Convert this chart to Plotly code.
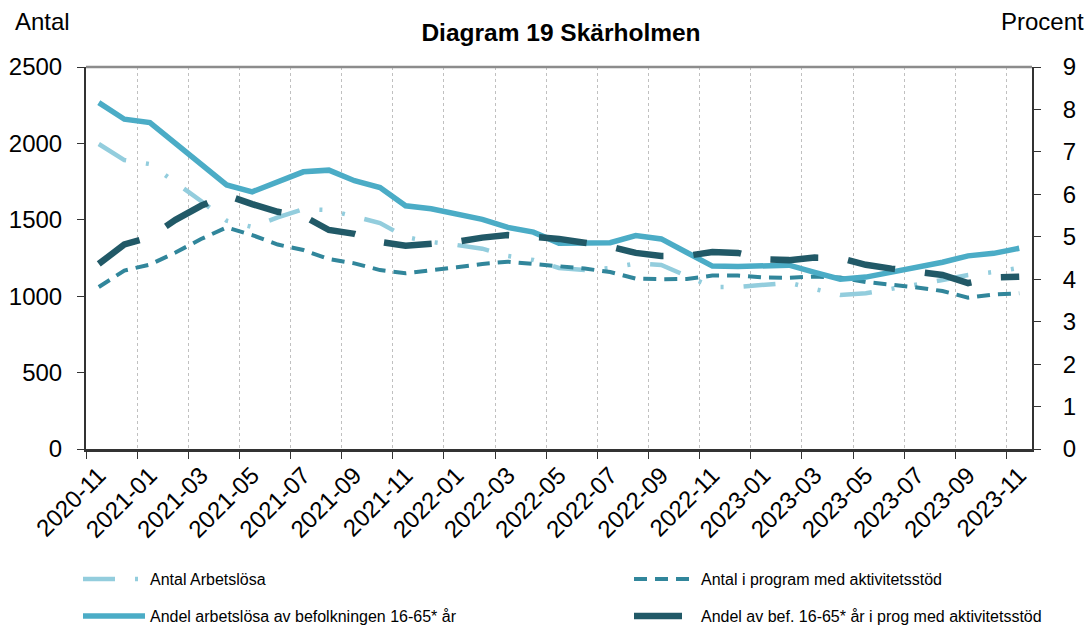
import plotly.graph_objects as go

months = ["2020-11", "2020-12", "2021-01", "2021-02", "2021-03", "2021-04", "2021-05", "2021-06",
          "2021-07", "2021-08", "2021-09", "2021-10", "2021-11", "2021-12", "2022-01", "2022-02",
          "2022-03", "2022-04", "2022-05", "2022-06", "2022-07", "2022-08", "2022-09", "2022-10",
          "2022-11", "2022-12", "2023-01", "2023-02", "2023-03", "2023-04", "2023-05", "2023-06",
          "2023-07", "2023-08", "2023-09", "2023-10", "2023-11"]

antal_arbetslosa = [1996, 1891, 1865, 1747, 1623, 1494, 1453, 1516, 1569, 1564, 1525, 1479,
                    1387, 1355, 1335, 1311, 1263, 1237, 1185, 1171, 1185, 1214, 1204, 1132,
                    1060, 1060, 1075, 1088, 1047, 1008, 1019, 1047, 1077, 1106, 1139, 1158, 1185]

antal_program = [1060, 1168, 1207, 1286, 1374, 1450, 1400, 1338, 1302, 1243, 1215, 1171,
                 1150, 1167, 1189, 1211, 1226, 1211, 1198, 1181, 1158, 1115, 1111, 1113,
                 1135, 1135, 1122, 1121, 1129, 1122, 1093, 1077, 1057, 1034, 990, 1011, 1019]

andel_arbetslosa = [8.16, 7.77, 7.69, 7.20, 6.72, 6.22, 6.06, 6.30, 6.53, 6.57, 6.32, 6.16,
                    5.73, 5.66, 5.54, 5.41, 5.22, 5.11, 4.85, 4.85, 4.86, 5.03, 4.95, 4.63,
                    4.31, 4.30, 4.30, 4.33, 4.16, 4.00, 4.05, 4.16, 4.28, 4.40, 4.55, 4.61, 4.73]

andel_program = [4.36, 4.82, 4.99, 5.40, 5.73, 5.98, 5.77, 5.59, 5.49, 5.16, 5.07, 4.88,
                 4.79, 4.85, 4.88, 4.98, 5.04, 5.00, 4.95, 4.86, 4.77, 4.62, 4.55, 4.55,
                 4.64, 4.62, 4.47, 4.45, 4.51, 4.50, 4.34, 4.25, 4.19, 4.10, 3.91, 4.04, 4.06]

names = ["Antal Arbetslösa", "Antal i program med aktivitetsstöd",
         "Andel arbetslösa av befolkningen 16-65* år",
         "Andel av bef. 16-65* år i prog med aktivitetsstöd"]

x = list(range(len(months)))
tick_idx = list(range(0, len(months), 2))
tick_text = [months[i] for i in tick_idx]

FONT = "Liberation Sans, Arial, sans-serif"

# plot area in pixels
PL, PR, PT, PB = 86, 1032, 67, 449
PW, PH = PR - PL, PB - PT


def px_x(p):
    return (p - PL) / PW


def px_y(p):
    return (PB - p) / PH


fig = go.Figure()
fig.add_trace(go.Scatter(x=x, y=antal_arbetslosa, name=names[0], mode="lines", yaxis="y",
                         line=dict(color="#93CDDD", width=4.5, dash="32px,20px,3px,20px,3px,20px"),
                         legend="legend", showlegend=True))
fig.add_trace(go.Scatter(x=x, y=antal_program, name=names[1], mode="lines", yaxis="y",
                         line=dict(color="#31869B", width=4, dash="13px,8px"),
                         legend="legend2", showlegend=True))
fig.add_trace(go.Scatter(x=x, y=andel_arbetslosa, name=names[2], mode="lines", yaxis="y2",
                         line=dict(color="#4BACC6", width=5.5),
                         legend="legend3", showlegend=True))
fig.add_trace(go.Scatter(x=x, y=andel_program, name=names[3], mode="lines", yaxis="y2",
                         line=dict(color="#215967", width=6.5, dash="48px,30px"),
                         legend="legend4", showlegend=True))


def leg(xpx, ypx):
    return dict(orientation="h", x=px_x(xpx), xanchor="left", y=px_y(ypx), yanchor="middle",
                itemwidth=62, font=dict(size=16, family=FONT), bgcolor="rgba(0,0,0,0)",
                visible=True)


fig.update_layout(
    width=1090, height=627,
    showlegend=True,
    margin=dict(l=PL, r=1090 - PR, t=PT, b=627 - PB, autoexpand=False),
    paper_bgcolor="white", plot_bgcolor="white",
    font=dict(family=FONT, color="black"),
    title=dict(text="<b>Diagram 19 Skärholmen</b>", x=px_x(561), xref="paper", xanchor="center",
               y=1 - 32 / 627, yanchor="middle", font=dict(size=24.5, family=FONT)),
    xaxis=dict(range=[-0.5, len(months) - 0.5], tickmode="array", tickvals=tick_idx,
               ticktext=tick_text, tickangle=-45, ticks="", showgrid=False, zeroline=False,
               showline=True, linecolor="#333333", linewidth=2.5, automargin=False,
               tickfont=dict(size=24, family=FONT),
               minor=dict(tick0=-0.5, dtick=2, ticks="outside", ticklen=7, tickcolor="#333333",
                          showgrid=True, gridcolor="#c0c0c0", griddash="dot", gridwidth=1)),
    yaxis=dict(range=[0, 2500], dtick=500, ticks="outside", ticklen=7, tickcolor="#333333",
               showline=True, linecolor="#333333", linewidth=2, showgrid=False, zeroline=False,
               tickfont=dict(size=24, family=FONT), ticklabelstandoff=10, automargin=False),
    yaxis2=dict(range=[0, 9], dtick=1, overlaying="y", side="right", ticks="outside", ticklen=7,
                tickcolor="#333333", showline=True, linecolor="#333333", linewidth=2,
                showgrid=False, zeroline=False, tickfont=dict(size=24, family=FONT),
                ticklabelstandoff=17, automargin=False),
    legend=leg(78, 579),
    legend2=leg(629, 579),
    legend3=leg(78, 616),
    legend4=leg(629, 616),
    shapes=[dict(type="line", xref="paper", yref="paper", x0=0, x1=1, y0=1, y1=1,
                 line=dict(color="#8c8c8c", width=2.5))],
    annotations=[
        dict(text="Antal", xref="paper", yref="paper", x=px_x(42), y=px_y(22),
             xanchor="center", yanchor="middle", showarrow=False, font=dict(size=24, family=FONT)),
        dict(text="Procent", xref="paper", yref="paper", x=px_x(1086), y=px_y(22),
             xanchor="right", yanchor="middle", showarrow=False, font=dict(size=24, family=FONT)),
    ],
)

fig.write_html("out.html", config={"displayModeBar": False},
               post_script="document.body.style.margin='0';")
